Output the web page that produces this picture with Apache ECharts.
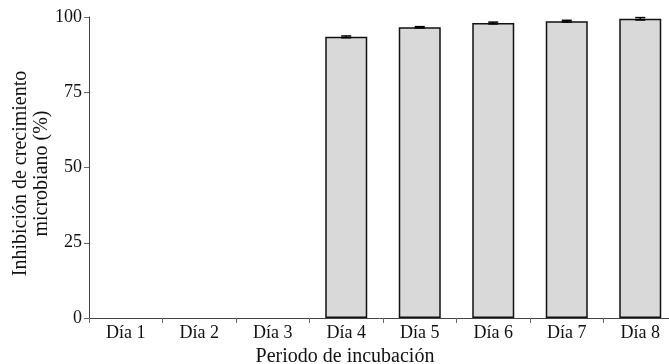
<!DOCTYPE html>
<html><head><meta charset="utf-8">
<script src="https://cdn.jsdelivr.net/npm/echarts@6/dist/echarts.min.js"></script>
<style>html,body{margin:0;padding:0;background:#fff}#c{width:669px;height:364px}</style>
</head><body><div id="c"></div>
<script>
const categories = ['Día 1','Día 2','Día 3','Día 4','Día 5','Día 6','Día 7','Día 8'];
const values = [0, 0, 0, 93.4, 96.6, 98.0, 98.6, 99.4];
const errors = [0, 0, 0, 0.3, 0.2, 0.3, 0.3, 0.4];
const yTicks = [0, 25, 50, 75, 100];

const font = 'Liberation Serif';
const chart = echarts.init(document.getElementById('c'));
chart.setOption({
  animation: false,
  grid: {left: 89, right: -8, top: 17, bottom: 46, containLabel: false, outerBoundsMode: 'none'},
  xAxis: {
    type: 'category', data: categories,
    axisLine: {lineStyle: {color: '#444', width: 1}},
    axisTick: {show: true, length: 5, lineStyle: {color: '#666'}},
    axisLabel: {color: '#111', fontFamily: font, fontSize: 18, margin: 6},
    name: 'Periodo de incubación', nameLocation: 'middle', nameGap: 25,
    nameTextStyle: {color: '#111', fontFamily: font, fontSize: 20, padding: [0, 76, 0, 0]}
  },
  yAxis: {
    type: 'value', min: 0, max: 100, interval: 25,
    splitLine: {show: false},
    axisLine: {show: true, lineStyle: {color: '#444', width: 1}},
    axisTick: {show: true, length: 5, lineStyle: {color: '#666'}},
    axisLabel: {color: '#111', fontFamily: font, fontSize: 18, margin: 7,
      formatter: v => yTicks.includes(v) ? String(v) : ''},
    name: 'Inhibición de crecimiento\nmicrobiano (%)', nameLocation: 'middle', nameGap: 37,
    nameMoveOverlap: false,
    nameTextStyle: {color: '#111', fontFamily: font, fontSize: 20, lineHeight: 21, padding: [0, 12, 0, 0]}
  },
  series: [{
    type: 'bar', barWidth: 42,
    data: values.map(v => v === 0 ? {value: v, itemStyle: {borderWidth: 0}} : v),
    itemStyle: {color: '#d9d9d9', borderColor: '#111', borderWidth: 1.5}
  }, {
    type: 'custom',
    data: values.map((v, i) => [i, v, errors[i]]),
    renderItem: function (params, api) {
      const i = api.value(0), v = api.value(1), e = api.value(2);
      if (!v) return null;
      const hi = api.coord([i, v + e]);
      const lo = api.coord([i, v - e]);
      const hw = 5;
      return {type: 'group', children: [
        {type: 'line', shape: {x1: hi[0], y1: hi[1], x2: lo[0], y2: lo[1]}, style: {stroke: '#000', lineWidth: 1.5}},
        {type: 'line', shape: {x1: hi[0]-hw, y1: hi[1], x2: hi[0]+hw, y2: hi[1]}, style: {stroke: '#000', lineWidth: 1.5}},
        {type: 'line', shape: {x1: lo[0]-hw, y1: lo[1], x2: lo[0]+hw, y2: lo[1]}, style: {stroke: '#000', lineWidth: 1.5}}
      ]};
    },
    z: 10
  }]
});
</script></body></html>
